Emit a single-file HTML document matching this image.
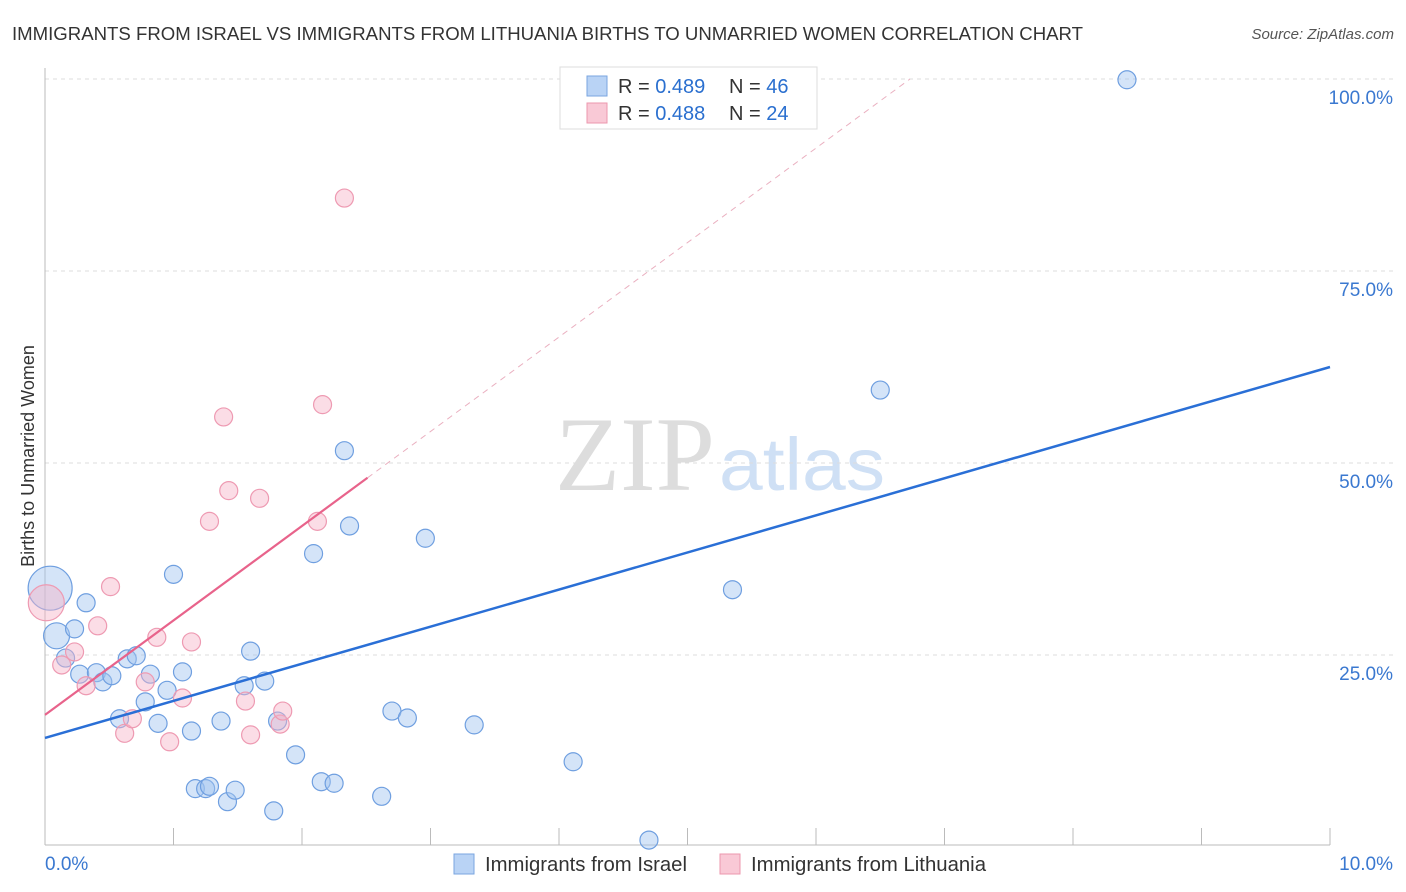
<!DOCTYPE html>
<html><head><meta charset="utf-8">
<style>
body{margin:0;background:#fff;font-family:"Liberation Sans",sans-serif;}
#wrap{position:relative;width:1406px;height:892px;overflow:hidden;}
</style></head>
<body>
<div id="wrap">
<svg id="svg" width="1406" height="892" xmlns="http://www.w3.org/2000/svg">
<text x="12" y="40" font-size="18" fill="#333" textLength="1071" lengthAdjust="spacingAndGlyphs">IMMIGRANTS FROM ISRAEL VS IMMIGRANTS FROM LITHUANIA BIRTHS TO UNMARRIED WOMEN CORRELATION CHART</text>
<text x="1394" y="39" font-size="15" fill="#555" font-style="italic" text-anchor="end">Source: ZipAtlas.com</text>
<text x="715" y="490" font-size="106" font-family="Liberation Serif,serif" fill="#ddd" text-anchor="end" textLength="160" lengthAdjust="spacingAndGlyphs">ZIP</text>
<text x="719" y="490" font-size="74" fill="#cfe0f5" textLength="166" lengthAdjust="spacingAndGlyphs">atlas</text>
<g id="grid"></g>
<g id="pts"></g>
<g id="lines"></g>
<text x="30" y="456" font-size="18" fill="#333" transform="rotate(-90 30 456)" text-anchor="middle" dy="4">Births to Unmarried Women</text>
<g>
<rect x="560" y="67" width="257" height="62" fill="#fff" stroke="#ddd"/>
<rect x="587" y="76" width="20" height="20" fill="#b9d3f5" stroke="#7aa6e0"/>
<rect x="587" y="103" width="20" height="20" fill="#f9c9d6" stroke="#ec97ae"/>
<text x="618" y="93" font-size="20" fill="#333">R = <tspan fill="#2a6fcf">0.489</tspan></text>
<text x="729" y="93" font-size="20" fill="#333">N = <tspan fill="#2a6fcf">46</tspan></text>
<text x="618" y="120" font-size="20" fill="#333">R = <tspan fill="#2a6fcf">0.488</tspan></text>
<text x="729" y="120" font-size="20" fill="#333">N = <tspan fill="#2a6fcf">24</tspan></text>
</g>
<g>
<rect x="454" y="854" width="20" height="20" fill="#b9d3f5" stroke="#7aa6e0"/>
<text x="485" y="871" font-size="20" fill="#333" textLength="202" lengthAdjust="spacingAndGlyphs">Immigrants from Israel</text>
<rect x="720" y="854" width="20" height="20" fill="#f9c9d6" stroke="#ec97ae"/>
<text x="751" y="871" font-size="20" fill="#333" textLength="235" lengthAdjust="spacingAndGlyphs">Immigrants from Lithuania</text>
</g>
</svg>
</div>
<script>
const yTicks=[25,50,75,100];
const yTickLabels=["25.0%","50.0%","75.0%","100.0%"];
const xTickLabels=["0.0%","10.0%"];
const israelX=[.04,.09,.23,.32,1.00,.16,.27,.40,.45,.52,.64,.71,.82,.95,1.07,.78,.58,.88,1.14,1.37,1.60,1.55,1.71,1.81,1.17,1.25,1.28,1.42,1.48,1.78,1.95,2.15,2.25,2.62,2.09,2.37,2.33,2.70,2.82,2.96,3.34,4.11,4.70,5.35,6.50,8.42];
const israelY=[33.7,27.5,28.4,31.8,35.5,24.6,22.5,22.7,21.5,22.3,24.5,24.9,22.5,20.4,22.8,18.9,16.7,16.1,15.1,16.4,25.5,21.0,21.6,16.4,7.6,7.6,7.9,5.9,7.4,4.7,12.0,8.5,8.3,6.6,38.2,41.8,51.6,17.7,16.8,40.2,15.9,11.1,0.9,33.5,59.5,99.9];
const israelR=[22,13];
const lithX=[.01,.13,.23,.32,.51,.41,.62,.68,.78,.87,.97,1.07,1.14,1.28,1.39,1.43,1.56,1.60,1.67,1.83,1.85,2.12,2.16,2.33];
const lithY=[31.8,23.7,25.4,21.0,33.9,28.8,14.8,16.7,21.5,27.3,13.7,19.4,26.7,42.4,56.0,46.4,19.0,14.6,45.4,16.0,17.7,42.4,57.6,84.5];
const lithR=[18];
const blueLine=[14.2,62.5];
const pinkLine=[17.2,12.3,2.51];
const NS="http://www.w3.org/2000/svg";
const X=v=>45+v/10*1285;
const Y=v=>847-v*7.68;
function mk(tag,at,par){const e=document.createElementNS(NS,tag);for(const k in at)e.setAttribute(k,at[k]);par.appendChild(e);return e;}
const grid=document.getElementById('grid');
yTicks.forEach((t,i)=>{
 const l=mk('line',{x1:45,x2:1393,y1:Y(t),y2:Y(t),stroke:'#ddd','stroke-dasharray':'4 4'},grid);
 
 
 const tx=mk('text',{x:1393,y:Y(t)+25,'font-size':19,fill:'#3a78d0','text-anchor':'end'},grid);
 tx.textContent=yTickLabels[i];
 
 
});
const ax=mk('line',{x1:45,x2:45,y1:68,y2:845,stroke:'#bbb'},grid);


const bx=mk('line',{x1:45,x2:1330,y1:845,y2:845,stroke:'#bbb'},grid);


for(let i=1;i<=10;i++){const t=mk('line',{x1:X(i),x2:X(i),y1:828,y2:845,stroke:'#bbb'},grid);
 
 }
xTickLabels.forEach((s,i)=>{const t=mk('text',{x:i?1393:45,y:870,'font-size':19,fill:'#3a78d0','text-anchor':i?'end':'start'},grid);t.textContent=s;
 
 });
const pts=document.getElementById('pts');
israelX.forEach((x,i)=>{const c=mk('circle',{cx:X(x),cy:Y(israelY[i]),r:israelR[i]||9,fill:'rgba(160,196,240,0.45)',stroke:'#6f9fe0','stroke-width':1.2},pts);
 
 });
lithX.forEach((x,i)=>{const c=mk('circle',{cx:X(x),cy:Y(lithY[i]),r:lithR[i]||9,fill:'rgba(246,180,200,0.45)',stroke:'#ee9ab2','stroke-width':1.2},pts);
 
 });
const lines=document.getElementById('lines');
const b=mk('line',{x1:X(0),y1:Y(blueLine[0]),x2:X(10),y2:Y(blueLine[1]),stroke:'#2a6fd6','stroke-width':2.5},lines);


const pe=pinkLine[2];
const p=mk('line',{x1:X(0),y1:Y(pinkLine[0]),x2:X(pe),y2:Y(pinkLine[0]+pinkLine[1]*pe),stroke:'#e8638b','stroke-width':2.2},lines);


const xe=(100-pinkLine[0])/pinkLine[1];
const d=mk('line',{x1:X(pe),y1:Y(pinkLine[0]+pinkLine[1]*pe),x2:X(xe),y2:Y(100),stroke:'#eab0c0','stroke-width':1,'stroke-dasharray':'6 5'},lines);


</script>
</body></html>
